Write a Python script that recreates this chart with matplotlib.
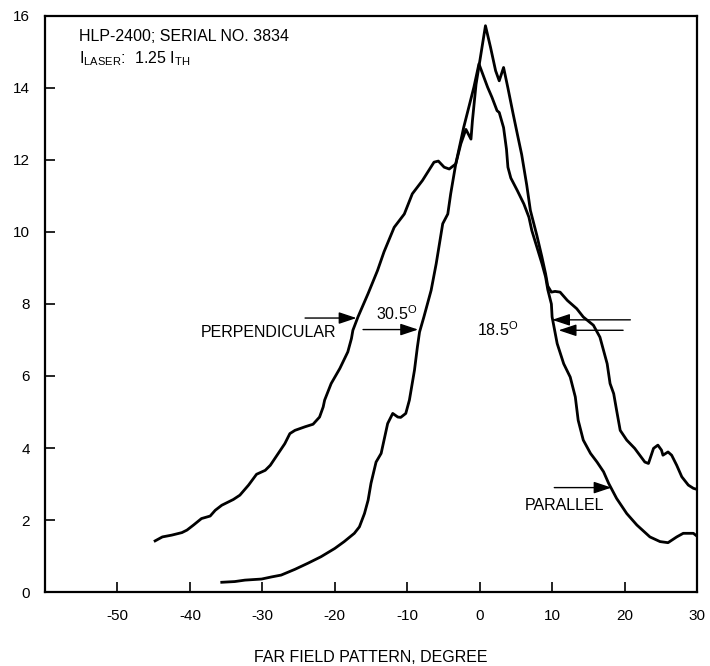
import matplotlib
matplotlib.use("Agg")
import matplotlib.pyplot as plt

plt.rcParams['font.family'] = ['Liberation Sans', 'DejaVu Sans']
plt.rcParams['mathtext.fontset'] = 'custom'
plt.rcParams['mathtext.rm'] = 'Liberation Sans'
plt.rcParams['axes.unicode_minus'] = False

# Perpendicular (wide) far-field curve
perp_angle = [-44.8, -43.8, -42.5, -41.1, -40.4, -39.5, -38.4, -37.2, -36.5, -35.6,
              -34.0, -33.1, -31.9, -30.8, -29.6, -28.9, -27.8, -26.9, -26.2, -25.5,
              -24.1, -23.0, -22.1, -21.6, -21.4, -20.5, -19.3, -18.2, -17.7, -17.5,
              -16.8, -15.4, -14.1, -13.2, -11.8, -10.4, -9.3, -7.9, -6.3, -5.7,
              -4.9, -4.2, -3.3, -2.6, -1.9, -1.2, -1.0, -0.5, 0.1, 0.8,
              1.5, 2.2, 2.7, 3.3, 3.9, 4.6, 5.2, 5.8, 6.5, 7.0,
              7.9, 8.6, 9.1, 9.4, 9.9, 10.4, 11.1, 12.1, 13.4, 14.3,
              15.7, 16.6, 17.1, 17.6, 18.0, 18.5, 18.9, 19.4, 20.3, 21.4,
              22.8, 23.3, 24.0, 24.6, 25.1, 25.3, 26.0, 26.5, 27.2, 27.9,
              28.8, 29.5, 30.0]
perp_level = [1.42, 1.53, 1.58, 1.65, 1.72, 1.86, 2.04, 2.11, 2.27, 2.41,
              2.57, 2.69, 2.97, 3.27, 3.38, 3.52, 3.85, 4.12, 4.40, 4.49,
              4.59, 4.66, 4.86, 5.14, 5.33, 5.79, 6.21, 6.67, 7.04, 7.27,
              7.64, 8.29, 8.93, 9.45, 10.13, 10.50, 11.06, 11.43, 11.94, 11.97,
              11.80, 11.75, 11.89, 12.45, 12.85, 12.58, 13.09, 14.10, 14.85, 15.73,
              15.13, 14.48, 14.20, 14.57, 14.00, 13.30, 12.72, 12.15, 11.30, 10.60,
              9.90, 9.30, 8.84, 8.50, 8.33, 8.35, 8.33, 8.10, 7.87, 7.64,
              7.41, 7.08, 6.71, 6.34, 5.79, 5.51, 5.05, 4.49, 4.22, 3.99,
              3.61, 3.57, 3.99, 4.08, 3.94, 3.80, 3.89, 3.80, 3.52, 3.20,
              2.97, 2.88, 2.85]

# Parallel (narrow) far-field curve
par_angle = [-35.6, -33.8, -32.4, -30.1, -28.7, -27.4, -25.5, -23.7, -21.9, -20.0,
             -18.7, -17.3, -16.6, -15.9, -15.4, -15.0, -14.3, -13.6, -13.2, -12.7,
             -12.0, -11.3, -10.9, -10.2, -9.7, -9.0, -8.6, -8.3, -7.7, -6.7,
             -6.0, -5.1, -4.4, -4.0, -3.3, -2.2, -0.8, -0.1, 0.6, 1.1,
             1.7, 2.4, 2.7, 3.3, 3.7, 3.9, 4.3, 5.2, 6.1, 6.8,
             7.2, 7.9, 8.6, 9.1, 9.4, 9.9, 10.0, 10.7, 11.6, 12.5,
             13.2, 13.6, 14.3, 15.3, 16.2, 17.1, 17.8, 18.9, 20.3, 21.7,
             23.5, 24.9, 26.0, 27.2, 28.1, 29.5, 30.0]
par_level = [0.27, 0.29, 0.33, 0.36, 0.42, 0.47, 0.63, 0.80, 0.98, 1.21,
             1.40, 1.63, 1.81, 2.18, 2.55, 3.02, 3.61, 3.85, 4.22, 4.68,
             4.96, 4.86, 4.85, 4.96, 5.33, 6.16, 6.80, 7.22, 7.64, 8.38,
             9.12, 10.23, 10.50, 11.06, 11.89, 12.91, 14.02, 14.67, 14.29, 14.02,
             13.74, 13.37, 13.32, 12.90, 12.30, 11.80, 11.50, 11.15, 10.78, 10.41,
             10.04, 9.58, 9.12, 8.75, 8.40, 8.00, 7.64, 6.90, 6.34, 5.97,
             5.42, 4.77, 4.22, 3.85, 3.61, 3.34, 3.02, 2.60, 2.18, 1.86,
             1.53, 1.40, 1.37, 1.53, 1.63, 1.63, 1.55]

x_ticks = [-50, -40, -30, -20, -10, 0, 10, 20, 30]
y_ticks = [0, 2, 4, 6, 8, 10, 12, 14, 16]

fig = plt.figure(figsize=(7.10, 6.66), dpi=100)
ax = fig.add_axes([45/710, 74/666, 652/710, 576/666])

ax.plot(perp_angle, perp_level, color='black', lw=2.0, solid_joinstyle='round')
ax.plot(par_angle, par_level, color='black', lw=2.0, solid_joinstyle='round')

ax.set_xlim(-60, 30)
ax.set_ylim(0, 16)
ax.set_xticks(x_ticks)
ax.set_yticks(y_ticks)
ax.tick_params(axis='both', direction='in', length=7, width=1.2, labelsize=11, pad=11)
ax.tick_params(axis='x', pad=12)
for s in ax.spines.values():
    s.set_linewidth(1.6)

ax.set_xlabel('FAR FIELD PATTERN, DEGREE', fontsize=11.5, labelpad=20)

ax.text(0.052, 0.957, 'HLP-2400; SERIAL NO. 3834', transform=ax.transAxes,
        fontsize=11.5, va='baseline', ha='left')
ax.text(0.052, 0.918, r'$\mathregular{I_{LASER}}$:  1.25 $\mathregular{I_{TH}}$',
        transform=ax.transAxes, fontsize=11.5, va='baseline', ha='left')

ap = dict(arrowstyle='-|>,head_length=0.9,head_width=0.3', color='black',
          lw=1.0, shrinkA=0, shrinkB=0, mutation_scale=12)
ax.annotate('', xy=(-17.0, 7.61), xytext=(-24.1, 7.61), arrowprops=ap)
ax.annotate('', xy=(-8.5, 7.29), xytext=(-16.1, 7.29), arrowprops=ap)
ax.annotate('', xy=(10.0, 7.56), xytext=(20.8, 7.56), arrowprops=ap)
ax.annotate('', xy=(10.9, 7.27), xytext=(19.8, 7.27), arrowprops=ap)
ax.annotate('', xy=(18.2, 2.90), xytext=(10.3, 2.90), arrowprops=ap)

ax.text(-29.1, 7.21, 'PERPENDICULAR', fontsize=11.5, ha='center', va='center')
ax.text(-11.4, 7.72, r'30.5$^{\mathregular{O}}$', fontsize=11.5, ha='center', va='center')
ax.text(2.5, 7.28, r'18.5$^{\mathregular{O}}$', fontsize=11.5, ha='center', va='center')
ax.text(11.7, 2.39, 'PARALLEL', fontsize=11.5, ha='center', va='center')

fig.savefig('out.png', dpi=100)
